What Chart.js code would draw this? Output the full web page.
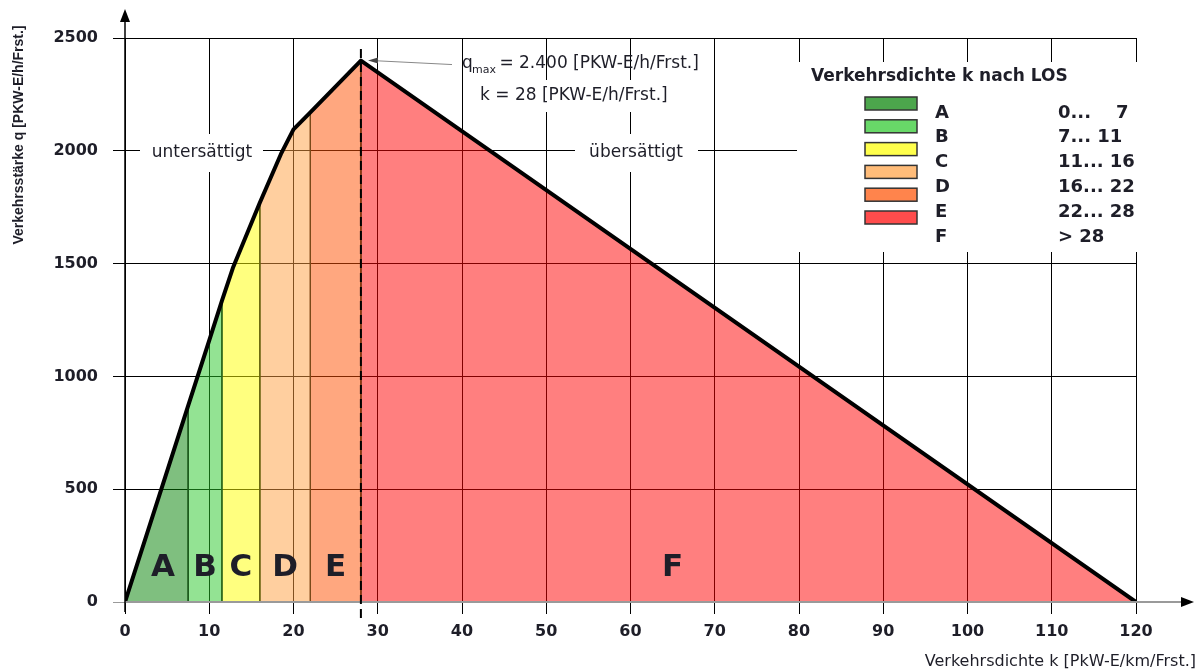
<!DOCTYPE html>
<html>
<head>
<meta charset="utf-8">
<script src="https://cdn.jsdelivr.net/npm/chart.js@4"></script>
<style>
  html, body { margin: 0; padding: 0; background: #fff; }
  #wrap { width: 1203px; height: 672px; }
</style>
</head>
<body>
<div id="wrap"><canvas id="chart" width="1203" height="672"></canvas></div>
<script>
// fundamental diagram q(k)
const kValues = [0, 5, 7.5, 10, 11.5, 12.8, 16, 18.5, 20, 22, 28, 120];
const qValues = [0, 580, 870, 1160, 1335, 1480, 1770, 1985, 2095, 2170, 2400, 0];

// LOS bands along k
const losLabels = ["A", "B", "C", "D", "E", "F"];
const losBounds = [0, 7.5, 11.5, 16, 22, 28, 120];
const losRanges = ["0...    7", "7... 11", "11... 16", "16... 22", "22... 28", "> 28"];

const kTicks = [0, 10, 20, 30, 40, 50, 60, 70, 80, 90, 100, 110, 120];
const qTicks = [0, 500, 1000, 1500, 2000, 2500];

const qMax = 2400;
const kCrit = 28;

// styling
const bandRgb = ["0,128,0", "40,200,40", "255,255,0", "255,160,64", "255,80,0", "255,0,0"];
const bandEdge = ["#1f5a1f", "#2c6a20", "#6a6a10", "#7a4a1a", "#8a3a10", "#000"];
const letterK = [4.5, 9.5, 13.75, 19, 25, 65];
const textColor = "#1e1e28";

const bandSets = losLabels.map((label, i) => {
    const a = losBounds[i];
    const b = losBounds[i + 1];
    const pts = [{ x: a, y: 0 }];
    kValues.forEach((k, j) => {
        if (k >= a && k <= b) pts.push({ x: k, y: qValues[j] });
    });
    pts.push({ x: b, y: 0 });
    return {
        label,
        data: pts,
        fill: "origin",
        backgroundColor: `rgba(${bandRgb[i]},0.5)`,
        borderColor: bandEdge[i],
        borderWidth: 1,
        pointRadius: 0,
        tension: 0,
        order: 1
    };
});

const curveSet = {
    label: "q(k)",
    data: kValues.map((k, i) => ({ x: k, y: qValues[i] })),
    borderColor: "#000",
    borderWidth: 4,
    borderJoinStyle: "round",
    fill: false,
    pointRadius: 0,
    tension: 0,
    order: -1
};

const text = (ctx, str, x, y, font, align) => {
    ctx.font = font;
    ctx.textAlign = align || "left";
    ctx.fillText(str, x, y);
};

const decorations = {
    id: "decorations",
    beforeDatasetsDraw(chart) {
        const ctx = chart.ctx;
        ctx.save();
        ctx.fillStyle = "#fff";
        ctx.fillRect(140, 134, 123, 38);   // untersättigt
        ctx.fillRect(575, 134, 123, 38);   // übersättigt
        ctx.fillRect(474, 80, 228, 32);    // k = 28
        ctx.fillRect(797, 62, 350, 190);   // legend
        ctx.restore();
    },
    afterDatasetsDraw(chart) {
        const ctx = chart.ctx;
        const xs = chart.scales.x;
        const ys = chart.scales.y;
        const x0 = xs.getPixelForValue(0);
        const y0 = ys.getPixelForValue(0);
        ctx.save();

        // x axis with arrow
        ctx.strokeStyle = "#9a9a9a";
        ctx.lineWidth = 2;
        ctx.beginPath();
        ctx.moveTo(x0, y0);
        ctx.lineTo(1183, y0);
        ctx.stroke();
        ctx.fillStyle = "#000";
        ctx.beginPath();
        ctx.moveTo(1181, y0 - 5);
        ctx.lineTo(1194, y0);
        ctx.lineTo(1181, y0 + 5);
        ctx.closePath();
        ctx.fill();

        // y axis with arrow
        ctx.strokeStyle = "#000";
        ctx.lineWidth = 1.5;
        ctx.beginPath();
        ctx.moveTo(x0, y0 + 10);
        ctx.lineTo(x0, 20);
        ctx.stroke();
        ctx.beginPath();
        ctx.moveTo(x0 - 5, 22);
        ctx.lineTo(x0, 9);
        ctx.lineTo(x0 + 5, 22);
        ctx.closePath();
        ctx.fill();

        // dashed critical density
        const xc = xs.getPixelForValue(kCrit);
        ctx.lineWidth = 2;
        ctx.setLineDash([9, 5]);
        ctx.beginPath();
        ctx.moveTo(xc, 49);
        ctx.lineTo(xc, y0 + 18);
        ctx.stroke();
        ctx.setLineDash([]);

        // annotation arrow to q_max
        const yp = ys.getPixelForValue(qMax);
        ctx.strokeStyle = "#888";
        ctx.lineWidth = 1;
        ctx.beginPath();
        ctx.moveTo(452, yp + 4);
        ctx.lineTo(372, yp);
        ctx.stroke();
        ctx.fillStyle = "#444";
        ctx.beginPath();
        ctx.moveTo(368, yp);
        ctx.lineTo(378, yp - 3);
        ctx.lineTo(378, yp + 3);
        ctx.closePath();
        ctx.fill();

        ctx.fillStyle = textColor;
        ctx.textBaseline = "middle";

        // q_max / k labels
        text(ctx, "q", 462, 64, "17px 'DejaVu Sans'");
        text(ctx, "max", 472, 70, "11px 'DejaVu Sans'");
        text(ctx, " = " + qMax.toLocaleString("de-DE") + " [PKW-E/h/Frst.]", 494, 64, "17px 'DejaVu Sans'");
        text(ctx, "k = " + kCrit + " [PKW-E/h/Frst.]", 480, 96, "17px 'DejaVu Sans'");

        text(ctx, "untersättigt", 202, 153, "17px 'DejaVu Sans'", "center");
        text(ctx, "übersättigt", 636, 153, "17px 'DejaVu Sans'", "center");

        // band letters
        losLabels.forEach((lab, i) => {
            text(ctx, lab, xs.getPixelForValue(letterK[i]), y0 - 34, "bold 31px 'DejaVu Sans'", "center");
        });

        // legend
        text(ctx, "Verkehrsdichte k nach LOS", 811, 77, "bold 17px 'DejaVu Sans'");
        losLabels.forEach((lab, i) => {
            const sy = 97 + i * 22.8;
            ctx.fillStyle = `rgba(${bandRgb[i]},0.7)`;
            ctx.fillRect(865, sy, 52, 13);
            ctx.strokeStyle = "#333";
            ctx.lineWidth = 1.5;
            ctx.strokeRect(865, sy, 52, 13);
            ctx.fillStyle = textColor;
            const ty = 113 + i * 24.8;
            text(ctx, lab, 935, ty, "bold 18px 'DejaVu Sans'");
            text(ctx, losRanges[i], 1058, ty, "bold 18px 'DejaVu Sans'");
        });

        // axis titles
        text(ctx, "Verkehrsdichte k [PkW-E/km/Frst.]", 1196, 662, "16px 'DejaVu Sans'", "right");
        ctx.translate(19, 135);
        ctx.rotate(-Math.PI / 2);
        text(ctx, "Verkehrsstärke q [PKW-E/h/Frst.]", 0, 0, "bold 14px 'Liberation Sans'", "center");

        ctx.restore();
    }
};

new Chart(document.getElementById("chart"), {
    type: "line",
    data: { datasets: [curveSet, ...bandSets] },
    options: {
        responsive: false,
        animation: false,
        layout: { padding: { top: 38, right: 67, left: 0, bottom: 0 } },
        plugins: { legend: { display: false }, tooltip: { enabled: false } },
        scales: {
            x: {
                type: "linear",
                min: 0,
                max: 120,
                afterFit: (s) => { s.height = 70; },
                afterBuildTicks: (s) => { s.ticks = kTicks.map((v) => ({ value: v })); },
                border: { display: false },
                grid: {
                    color: "#000",
                    lineWidth: 1,
                    tickLength: 12
                },
                ticks: {
                    color: textColor,
                    padding: 8,
                    maxRotation: 0,
                    callback: (v) => String(v),
                    font: { family: "'DejaVu Sans'", size: 16, weight: "bold" }
                }
            },
            y: {
                min: 0,
                max: 2500,
                afterFit: (s) => { s.width = 125; },
                afterBuildTicks: (s) => { s.ticks = qTicks.map((v) => ({ value: v })); },
                border: { display: false },
                grid: {
                    color: (c) => (c.tick && c.tick.value === 0 ? "#9a9a9a" : "#000"),
                    lineWidth: 1,
                    tickLength: 12
                },
                ticks: {
                    color: textColor,
                    padding: 15,
                    callback: (v) => String(v),
                    font: { family: "'DejaVu Sans'", size: 16, weight: "bold" }
                }
            }
        }
    },
    plugins: [decorations]
});
</script>
</body>
</html>
